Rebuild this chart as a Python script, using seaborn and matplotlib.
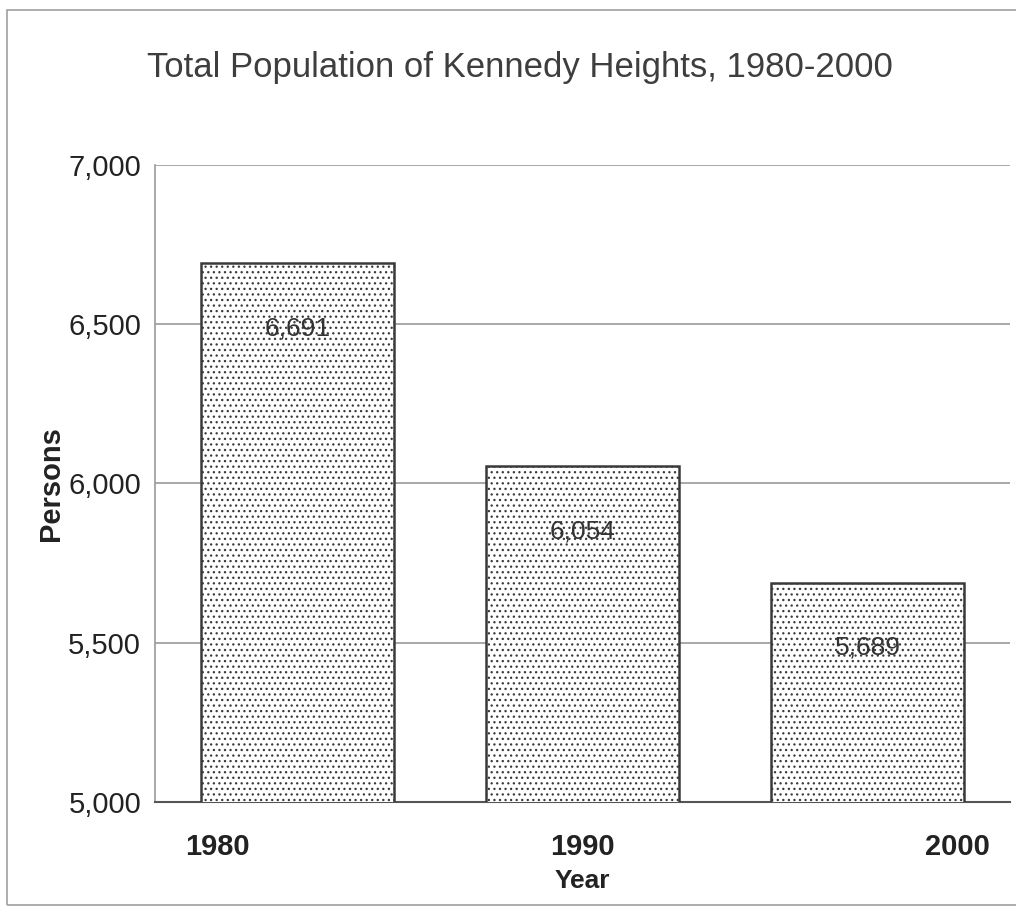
import matplotlib
matplotlib.use("Agg")
import matplotlib.pyplot as plt
import matplotlib.transforms as mtransforms
from matplotlib.patches import Rectangle
import seaborn as sns
import pandas as pd

# Census totals for Kennedy Heights
years = ["1980", "1990", "2000"]
population = [6691, 6054, 5689]
value_labels = ["6,691", "6,054", "5,689"]
y_ticks = [5000, 5500, 6000, 6500, 7000]
y_tick_labels = ["5,000", "5,500", "6,000", "6,500", "7,000"]

sns.set_style("white")
plt.rcParams["font.family"] = ["Liberation Sans", "DejaVu Sans"]
plt.rcParams["hatch.linewidth"] = 0.9
plt.rcParams["hatch.color"] = "#5a5a5a"

df = pd.DataFrame({"Year": years, "Persons": population})

fig = plt.figure(figsize=(10.16, 9.07), dpi=100)
ax = fig.add_axes([155 / 1016, 1 - 802 / 907, 855 / 1016, (802 - 165) / 907])

sns.barplot(data=df, x="Year", y="Persons", order=years, color="white",
            width=0.68, ax=ax, edgecolor="#3a3a3a", linewidth=1.8, zorder=3)
for bar in ax.patches:
    bar.set_hatch("...")
    bar.set_facecolor("white")

ax.set_ylim(5000, 7000)
ax.set_xlim(-0.5, 2.5)
ax.set_yticks(y_ticks)
ax.set_yticklabels(y_tick_labels, fontsize=21, color="#222222")
ax.yaxis.grid(True, color="#9a9a9a", linewidth=1.2, zorder=0)
ax.set_axisbelow(True)

ax.tick_params(axis="y", length=8, width=1, color="#9a9a9a", pad=2)
ax.tick_params(axis="x", length=0, pad=22)
ax.set_xticks(range(len(years)))
ax.set_xticklabels(years, fontsize=21, fontweight="bold", color="#222222")
shifts = [-80, 0, 90]
for lab, dx in zip(ax.get_xticklabels(), shifts):
    lab.set_transform(lab.get_transform() +
                      mtransforms.ScaledTranslation(dx / 100, 0, fig.dpi_scale_trans))

for side in ("top", "right"):
    ax.spines[side].set_visible(False)
ax.spines["left"].set_color("#9a9a9a")
ax.spines["left"].set_linewidth(1.2)
ax.spines["bottom"].set_color("#555555")
ax.spines["bottom"].set_linewidth(1.5)

ax.set_ylabel("Persons", fontsize=21, fontweight="bold", color="#222222", labelpad=2)
ax.set_xlabel("Year", fontsize=19, fontweight="bold", color="#222222", labelpad=6)

for i, (v, txt) in enumerate(zip(population, value_labels)):
    ax.annotate(txt, xy=(i, v), xytext=(0, -47), textcoords="offset points",
                ha="center", va="center", fontsize=19, color="#333333", zorder=5)

fig.text(520 / 1016, 1 - 68 / 907, "Total Population of Kennedy Heights, 1980-2000",
         ha="center", va="center", fontsize=25, color="#3e3e3e")

fig.patches.append(Rectangle((7 / 1016, 1 - 905 / 907), 1.1, (905 - 10) / 907,
                             transform=fig.transFigure, fill=False,
                             edgecolor="#a0a0a0", linewidth=1.2))

fig.savefig("out.png", dpi=100, facecolor="white")
